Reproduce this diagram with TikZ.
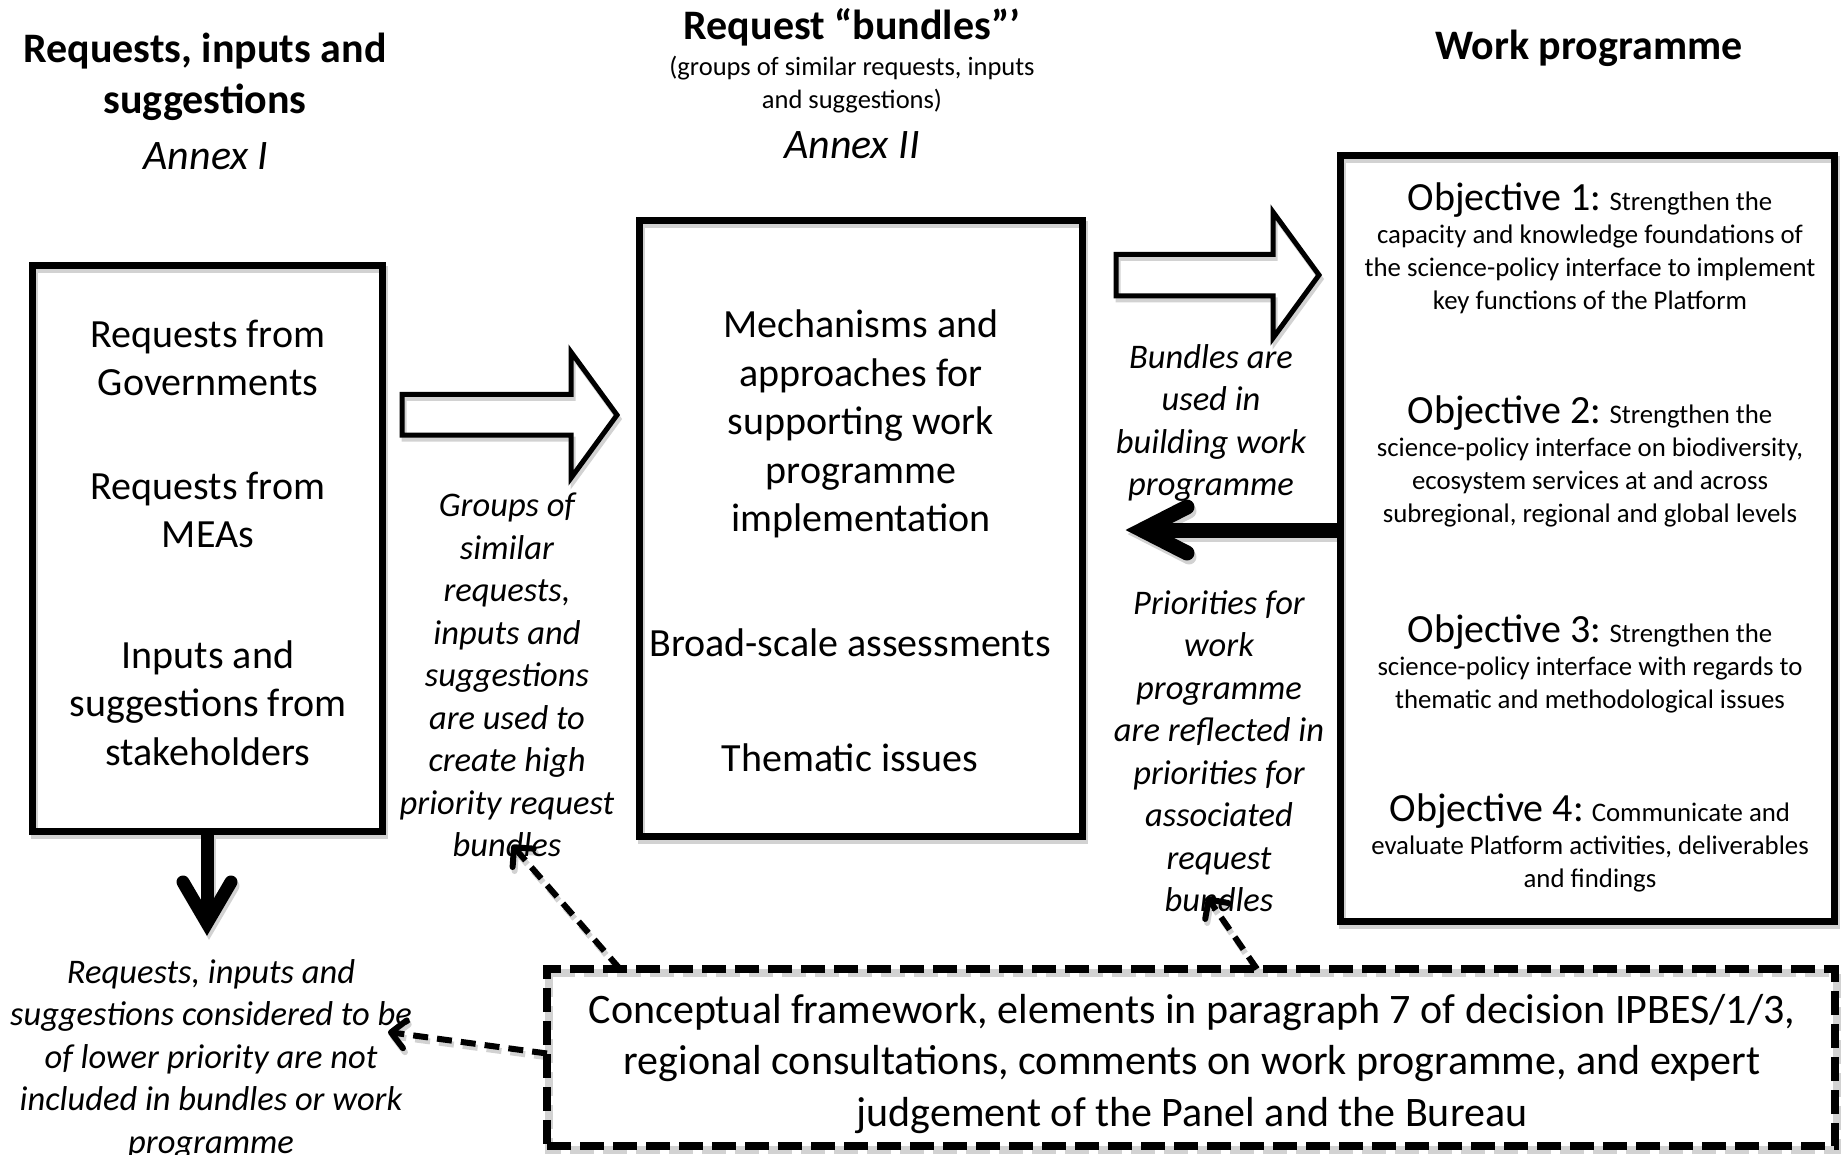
\documentclass[tikz,border=0pt]{standalone}
\usepackage{fontspec}
\setmainfont{Carlito}
\usetikzlibrary{arrows.meta,calc}
\pgfdeclarelayer{bg}
\pgfsetlayers{bg,main}
\begin{document}
\begin{tikzpicture}[x=1pt,y=-1pt,
  frame/.style={draw=black, line width=7pt, inner sep=0pt, outer sep=0pt},
  dframe/.style={draw=black, line width=8pt, dash pattern=on 24pt off 9pt, inner sep=0pt, outer sep=0pt},
  body/.style={align=center, inner sep=0pt, font=\fontsize{40}{48.5}\selectfont},
  note/.style={align=center, inner sep=0pt, font=\itshape\fontsize{34.5}{42.5}\selectfont},
  head/.style={align=center, inner sep=0pt, font=\bfseries\fontsize{42}{51}\selectfont},
  annex/.style={inner sep=0pt, font=\itshape\fontsize{42}{46}\selectfont},
  sub/.style={align=center, inner sep=0pt, font=\fontsize{26.5}{33}\selectfont},
  obj/.style={align=center, inner sep=0pt, font=\fontsize{26.8}{33}\selectfont},
  blockarrow/.style={draw=black, line width=5pt, line join=miter},
  heavy/.style={line width=#1},
  heavyhead/.style={line width=#1, line cap=round, line join=miter},
  dashlink/.style={line width=6pt, dash pattern=on 15pt off 9pt, -{Straight Barb[length=14pt,width=28pt,round]}},
  shadowed/.style={draw=gray!35, transform canvas={shift={(2pt,-4pt)}}}
]
\useasboundingbox (0,0) rectangle (1842,1155);

% boxes
\node[frame, minimum width=350pt, minimum height=565pt] (lbox) at (207,548.5) {};
\node[frame, minimum width=443pt, minimum height=615pt] (mbox) at (860.5,528.5) {};
\node[frame, minimum width=494pt, minimum height=765pt] (rbox) at (1587,538.5) {};
\node[dframe, minimum width=1288pt, minimum height=177pt] (cbox) at (1191,1057.5) {};
\node[align=center, inner sep=0pt, font=\fontsize{42}{51.5}\selectfont] (ctext) at (1192,1064)
  {Conceptual framework, elements in paragraph 7 of decision IPBES/1/3,\\regional consultations, comments on work programme, and expert\\judgement of the Panel and the Bureau};

% headings
\node[head] (h1) at (205,77) {Requests, inputs and\\suggestions};
\node[annex] (a1) at (206,156) {Annex I};
\node[head] (h2) at (852,27) {Request “bundles”’};
\node[sub] (s2) at (852,84.5) {(groups of similar requests, inputs\\and suggestions)};
\node[annex] (a2) at (852,145) {Annex II};
\node[head] (h3) at (1589,48) {Work programme};

% left box texts
\node[body] (l1) at (208,358) {Requests from\\Governments};
\node[body] (l2) at (208,510) {Requests from\\MEAs};
\node[body] (l3) at (208,703) {Inputs and\\suggestions from\\stakeholders};

% middle box texts
\node[body] (m1) at (861,424) {Mechanisms and\\approaches for\\supporting work\\programme\\implementation};
\node[body] (m2) at (850,643) {Broad-scale assessments};
\node[body] (m3) at (850,758) {Thematic issues};

% right box texts
\node[obj] (o1) at (1590,248) {{\fontsize{40}{33}\selectfont Objective 1:} Strengthen the\\capacity and knowledge foundations of\\the science-policy interface to implement\\key functions of the Platform};
\node[obj] (o2) at (1590,461) {{\fontsize{40}{33}\selectfont Objective 2:} Strengthen the\\science-policy interface on biodiversity,\\ecosystem services at and across\\subregional, regional and global levels};
\node[obj] (o3) at (1590,664) {{\fontsize{40}{33}\selectfont Objective 3:} Strengthen the\\science-policy interface with regards to\\thematic and methodological issues};
\node[obj] (o4) at (1590,843) {{\fontsize{40}{33}\selectfont Objective 4:} Communicate and\\evaluate Platform activities, deliverables\\and findings};

% italic notes
\node[note] (g) at (507,675) {Groups of\\similar\\requests,\\inputs and\\suggestions\\are used to\\create high\\priority request\\bundles};
\node[note] (b) at (1211,423) {Bundles are\\used in\\building work\\programme};
\node[note] (p) at (1219,751) {Priorities for\\work\\programme\\are reflected in\\priorities for\\associated\\request\\bundles};
\node[note] (lo) at (211,1059) {Requests, inputs and\\suggestions considered to be\\of lower priority are not\\included in bundles or work\\programme};

% block arrows
\draw[blockarrow] (402,394.5) -- (571,394.5) -- (571,352) -- (617,415) -- (571,478) -- (571,435) -- (402,435) -- cycle;
\draw[blockarrow] (1116,254.5) -- (1273,254.5) -- (1273,212) -- (1319,275) -- (1273,338) -- (1273,296) -- (1116,296) -- cycle;

% heavy arrows
\coordinate (tipL) at (1142,530);
\draw[heavy=15pt] (rbox.west |- tipL) -- (tipL);
\draw[heavyhead=15pt] ($(tipL)+(45,-23)$) -- (tipL) -- ($(tipL)+(45,23)$);
\coordinate (tipD) at (207,923);
\draw[heavy=13pt] (lbox.south) -- (tipD);
\draw[heavyhead=13pt] ($(tipD)+(-24,-41)$) -- (tipD) -- ($(tipD)+(24,-41)$);

% dashed links
\coordinate (t1) at (512,845);
\coordinate (t2) at (1207,897);
\coordinate (t3) at (388,1032);
\draw[dashlink] ([xshift=73pt]cbox.north west) -- (t1);
\draw[dashlink] ([xshift=710pt]cbox.north west) -- (t2);
\draw[dashlink] ([yshift=4pt]cbox.west) -- (t3);

% shadows
\begin{pgfonlayer}{bg}
\draw[line width=7pt, shadowed] (lbox.north west) rectangle (lbox.south east);
\draw[line width=7pt, shadowed] (mbox.north west) rectangle (mbox.south east);
\draw[line width=7pt, shadowed] (rbox.north west) rectangle (rbox.south east);
\draw[line width=8pt, dash pattern=on 24pt off 9pt, shadowed] (cbox.north west) rectangle (cbox.south east);
\draw[blockarrow, shadowed] (402,394.5) -- (571,394.5) -- (571,352) -- (617,415) -- (571,478) -- (571,435) -- (402,435) -- cycle;
\draw[blockarrow, shadowed] (1116,254.5) -- (1273,254.5) -- (1273,212) -- (1319,275) -- (1273,338) -- (1273,296) -- (1116,296) -- cycle;
\draw[heavy=15pt, shadowed] (rbox.west |- tipL) -- (tipL);
\draw[heavyhead=15pt, shadowed] ($(tipL)+(45,-23)$) -- (tipL) -- ($(tipL)+(45,23)$);
\draw[heavy=13pt, shadowed] (lbox.south) -- (tipD);
\draw[heavyhead=13pt, shadowed] ($(tipD)+(-24,-41)$) -- (tipD) -- ($(tipD)+(24,-41)$);
\draw[dashlink, shadowed] ([xshift=73pt]cbox.north west) -- (t1);
\draw[dashlink, shadowed] ([xshift=710pt]cbox.north west) -- (t2);
\draw[dashlink, shadowed] ([yshift=4pt]cbox.west) -- (t3);
\end{pgfonlayer}
\end{tikzpicture}
\end{document}
